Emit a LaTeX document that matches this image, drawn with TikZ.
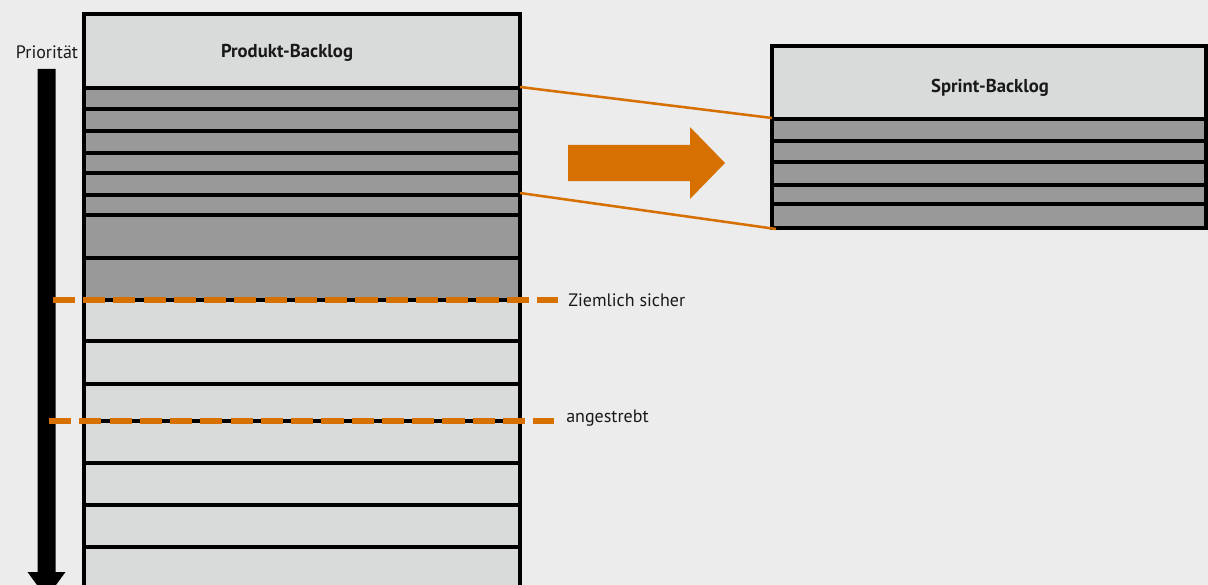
\documentclass[tikz,border=0pt]{standalone}
\usepackage{fontspec}
\setmainfont{PT Sans}
\definecolor{bg}{RGB}{236,236,236}
\definecolor{lightrow}{RGB}{217,219,218}
\definecolor{darkrow}{RGB}{153,153,153}
\definecolor{orng}{RGB}{214,112,0}
\tikzset{
  rowline/.style={line width=2.5pt,draw=black},
  lab/.style={font=\fontsize{13.5}{15}\selectfont,inner sep=0pt,text=black!90},
  title/.style={font=\fontsize{14}{16}\selectfont\bfseries,inner sep=0pt,text=black!90},
  orangeline/.style={draw=orng,line width=1.9pt},
  orangedash/.style={draw=orng,line width=5.2pt,dash pattern={on 16.6pt off 6.1pt}},
}
\begin{document}
\begin{tikzpicture}[x=0.75pt,y=-0.75pt]
\useasboundingbox (0,0) rectangle (1208,585);
\fill[bg] (0,0) rectangle (1208,585);
\clip (0,0) rectangle (1208,585);
% Produkt-Backlog
\fill[lightrow] (84,14) rectangle (520,88);
\fill[darkrow] (84,88) rectangle (520,300);
\fill[lightrow] (84,300) rectangle (520,600);
\foreach \y in {88,109,131,153,173,195,215,258,300,341,384,421,463,505,547}
  \draw[rowline] (84,\y) -- (520,\y);
\draw[rowline] (84,600) -- (84,14) -- (520,14) -- (520,600);
\node[title] (pb) at (287,53) {Produkt-Backlog};
% Sprint-Backlog
\fill[lightrow] (772,46) rectangle (1206,119);
\fill[darkrow] (772,119) rectangle (1206,228);
\foreach \y in {119,141,162,185,204}
  \draw[rowline] (772,\y) -- (1206,\y);
\draw[rowline] (772,46) rectangle (1206,228);
\node[title] (sb) at (990,88) {Sprint-Backlog};
% connectors
\coordinate (pa) at (520,87);
\coordinate (pb2) at (520,193);
\coordinate (sa) at (772,118);
\coordinate (sb2) at (776,229);
\draw[orangeline] (pa) -- (sa);
\draw[orangeline] (pb2) -- (sb2);
% big arrow
\fill[orng] (568,145) -- (690,145) -- (690,127) -- (725,163) -- (690,199) -- (690,181) -- (568,181) -- cycle;
% priority arrow
\node[lab] (prio) at (47,52) {Priorität};
\fill[black] (37.5,69) -- (55.5,69) -- (55.5,572) -- (65.5,572) -- (46.5,598) -- (27.5,572) -- (37.5,572) -- cycle;
% dashed thresholds
\coordinate (d1a) at (52.7,300);
\coordinate (d1b) at (558,300);
\coordinate (d2a) at (49,421);
\coordinate (d2b) at (554,421);
\draw[orangedash] (d1a) -- (d1b);
\draw[orangedash] (d2a) -- (d2b);
\node[lab,anchor=west] (zs) at (568,300) {Ziemlich sicher};
\node[lab,anchor=west] (an) at (566,418) {angestrebt};
\end{tikzpicture}
\end{document}
